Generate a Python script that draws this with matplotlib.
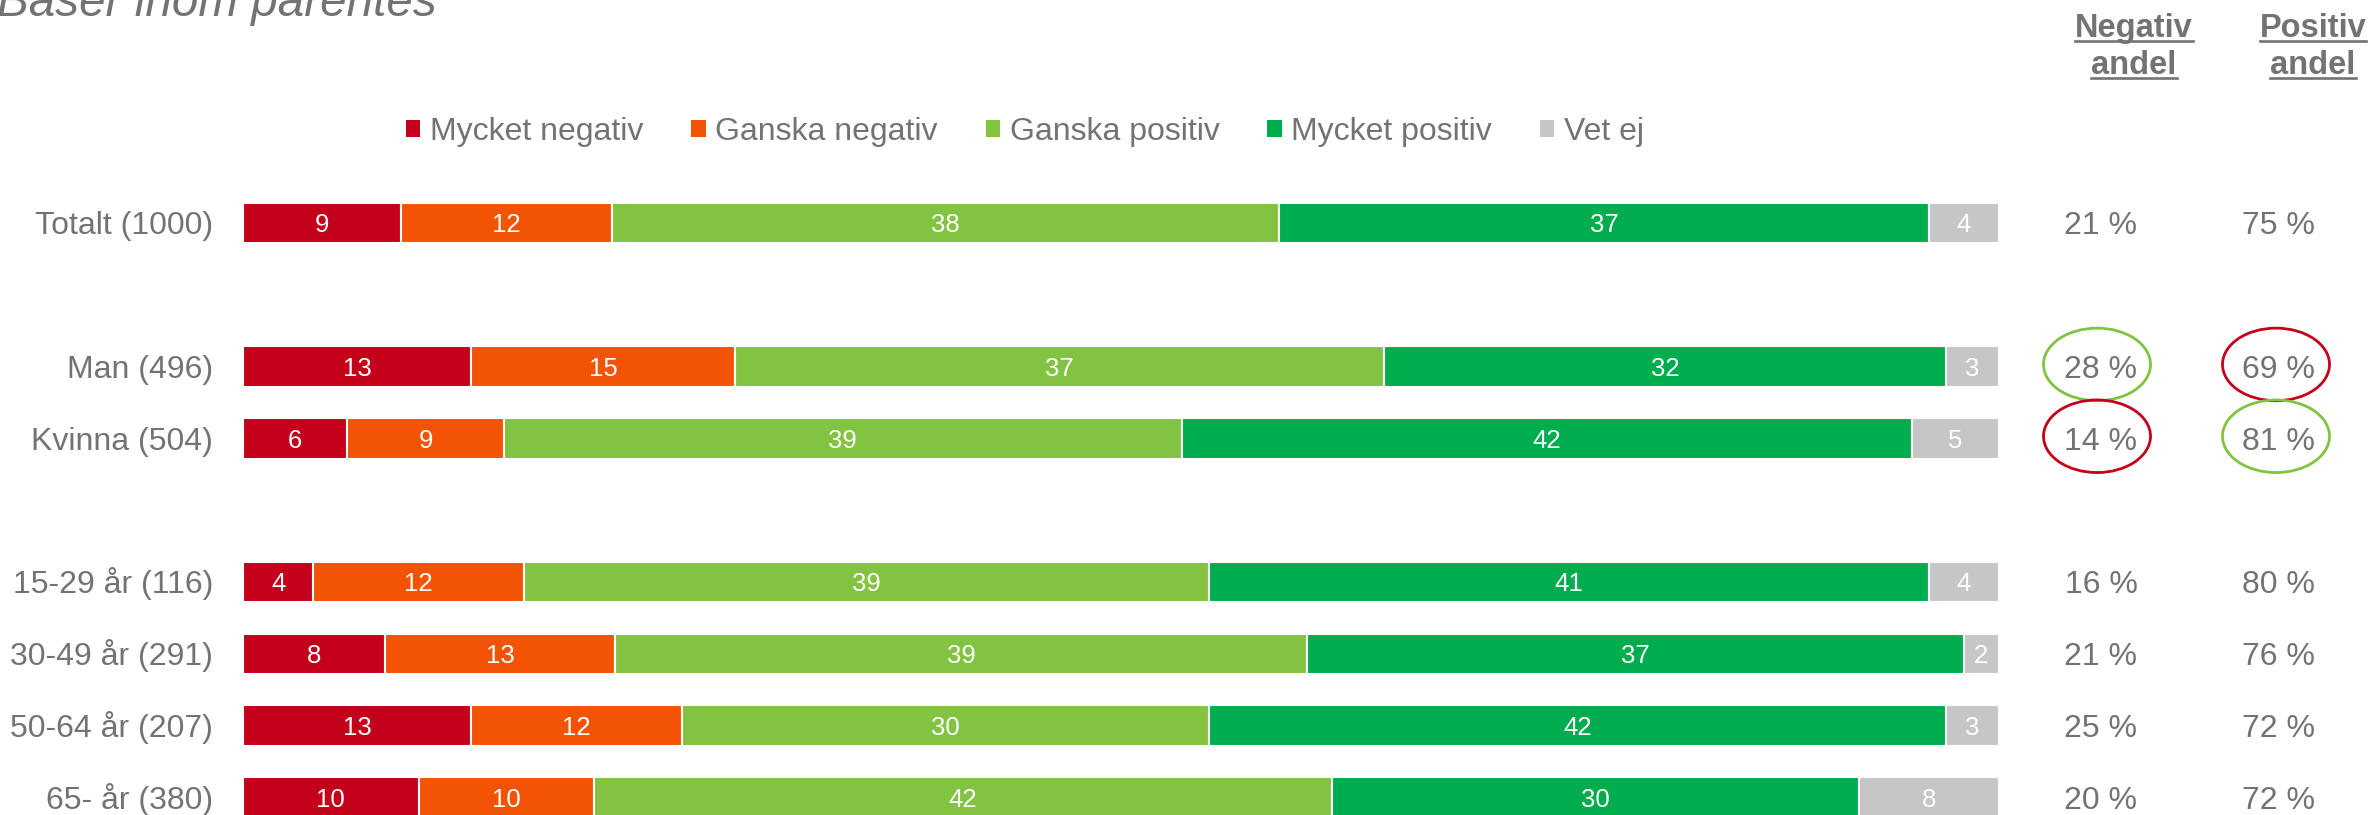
import numpy as np
import matplotlib.pyplot as plt
from matplotlib.patches import Patch, Ellipse
from matplotlib.lines import Line2D

plt.rcParams['font.family'] = ['Liberation Sans', 'DejaVu Sans']

# Data
groups = ['Totalt (1000)', 'Man (496)', 'Kvinna (504)',
          '15-29 år (116)', '30-49 år (291)', '50-64 år (207)', '65- år (380)']
series_names = ['Mycket negativ', 'Ganska negativ', 'Ganska positiv', 'Mycket positiv', 'Vet ej']
mycket_negativ = [9, 13, 6, 4, 8, 13, 10]
ganska_negativ = [12, 15, 9, 12, 13, 12, 10]
ganska_positiv = [38, 37, 39, 39, 39, 30, 42]
mycket_positiv = [37, 32, 42, 41, 37, 42, 30]
vet_ej = [4, 3, 5, 4, 2, 3, 8]
negativ_andel = [21, 28, 14, 16, 21, 25, 20]
positiv_andel = [75, 69, 81, 80, 76, 72, 72]
# 1 = signifikant högre (grön ring), -1 = signifikant lägre (röd ring)
neg_sig = [0, 1, -1, 0, 0, 0, 0]
pos_sig = [0, -1, 1, 0, 0, 0, 0]

colors = ['#C5001A', '#F25305', '#82C341', '#00AD4E', '#C6C6C6']
gray = '#737373'
ring = {1: '#82C341', -1: '#C5001A'}

# Layout (pixlar)
W, H = 2369, 815
x0, px_x = 243, 17.56      # bar start, px per procent
y0, row_px = 223, 71.8     # first row center, px per rad
ypos = np.array([0, 2, 3, 5, 6, 7, 8])

fig = plt.figure(figsize=(W / 100, H / 100), dpi=100)
ax = fig.add_axes([0, 0, 1, 1])
ax.set_xlim(-x0 / px_x, (W - x0) / px_x)
ax.set_ylim((H - y0) / row_px, -y0 / row_px)
ax.axis('off')


def base_off(fs):
    # flytta baslinjen så att versalerna hamnar mitt på raden
    return 0.716 * fs * 100 / 72 / 2 / row_px


data = np.array([mycket_negativ, ganska_negativ, ganska_positiv, mycket_positiv, vet_ej], dtype=float)
share = data / data.sum(axis=0) * 100
left = np.zeros(len(groups))
for k in range(len(series_names)):
    ax.barh(ypos, share[k], left=left, height=0.565, color=colors[k],
            edgecolor='white', linewidth=1.5)
    for i, y in enumerate(ypos):
        ax.text(left[i] + share[k][i] / 2, y + base_off(18.5), f'{int(data[k][i])}',
                ha='center', va='baseline', color='white', fontsize=18.5)
    left += share[k]

# Gruppetiketter
for i, y in enumerate(ypos):
    ax.text(-30 / px_x, y + base_off(23), groups[i], ha='right', va='baseline',
            fontsize=23, color=gray)

# Andelskolumner
neg_x = (2101 - x0) / px_x
pos_x = (2278 - x0) / px_x
for i, y in enumerate(ypos):
    ax.text(neg_x, y + base_off(23), f'{negativ_andel[i]} %', ha='center', va='baseline',
            fontsize=23, color=gray)
    ax.text(pos_x, y + base_off(23), f'{positiv_andel[i]} %', ha='center', va='baseline',
            fontsize=23, color=gray)
    if neg_sig[i]:
        ax.add_patch(Ellipse(((2097 - x0) / px_x, y - 0.03), 107 / px_x, 72.6 / row_px,
                             fill=False, edgecolor=ring[neg_sig[i]], lw=2))
    if pos_sig[i]:
        ax.add_patch(Ellipse(((2276 - x0) / px_x, y - 0.03), 107 / px_x, 72.6 / row_px,
                             fill=False, edgecolor=ring[pos_sig[i]], lw=2))

# Rubriker
heads = []
for cx, word in [(2134, 'Negativ'), (2313, 'Positiv')]:
    for by, txt in [(36.7, word), (74, 'andel')]:
        t = ax.text((cx - x0) / px_x, (by - y0) / row_px, txt, ha='center', va='baseline',
                    fontsize=23.5, fontweight='bold', color=gray)
        heads.append((t, by))

# Legend
handles = [Patch(facecolor=c, edgecolor='none') for c in colors]
fig.legend(handles, series_names, loc='center', bbox_to_anchor=(1025 / W, 1 - 132 / H),
           ncol=5, frameon=False, fontsize=23, labelcolor=gray,
           handlelength=0.45, handleheight=0.45, handletextpad=0.3, columnspacing=1.5)

# Titel (delvis utanför bilden, som i originalet)
fig.text(-3 / W, 1 - 16 / H, 'Baser inom parentes', style='italic', fontsize=34.3,
         ha='left', va='baseline', color=gray)

# Understrykning
fig.canvas.draw()
r = fig.canvas.get_renderer()
for t, by in heads:
    bb = t.get_window_extent(renderer=r)
    yl = H - (by + 4)
    fig.add_artist(Line2D([bb.x0 / W, bb.x1 / W], [yl / H, yl / H], color=gray, lw=1.9,
                          transform=fig.transFigure))

fig.savefig('out.png', dpi=100)
